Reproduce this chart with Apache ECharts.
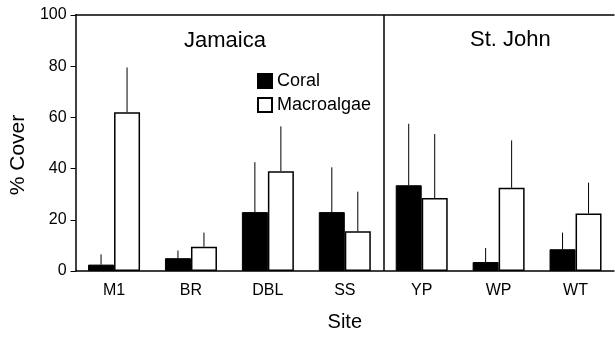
<!DOCTYPE html>
<html>
<head>
<meta charset="utf-8">
<script src="https://cdn.jsdelivr.net/npm/echarts@6/dist/echarts.min.js"></script>
<style>
  html, body { margin: 0; padding: 0; background: #fff; }
  #chart { width: 615px; height: 337px; }
</style>
</head>
<body>
<div id="chart"></div>
<script>
// sites along the x axis
const sites = ['M1', 'BR', 'DBL', 'SS', 'YP', 'WP', 'WT']
// mean % cover
const coral = [2.5, 5, 23, 23, 33.5, 3.5, 8.5]
const macroalgae = [62, 9.5, 39, 15.5, 28.5, 32.5, 22.5]
// top of the error bar (mean + SE)
const coralErr = [6.5, 8, 42.5, 40.5, 57.5, 9, 15]
const macroErr = [79.5, 15, 56.5, 31, 53.5, 51, 34.5]
const yTicks = [0, 20, 40, 60, 80, 100]

const font = 'Liberation Sans, Arial, Helvetica, sans-serif'
const chart = echarts.init(document.getElementById('chart'))

// upper error whiskers, no caps
function errSeries(means, tops, shift) {
  return {
    type: 'custom',
    silent: true,
    z: 5,
    data: means.map((m, i) => [i, m, tops[i]]),
    encode: { x: 0, y: [1, 2] },
    renderItem: (params, api) => {
      const a = api.coord([api.value(0), api.value(1)])
      const b = api.coord([api.value(0), api.value(2)])
      return {
        type: 'line',
        shape: { x1: a[0] + shift, y1: a[1], x2: b[0] + shift, y2: b[1] },
        style: { stroke: '#000', lineWidth: 1 },
      }
    },
  }
}

const option = {
  animation: false,
  textStyle: { fontFamily: font, color: '#000' },
  grid: { left: 73, right: 1, top: 15, bottom: 65 },
  legend: {
    orient: 'vertical',
    left: 252,
    top: 67,
    itemWidth: 14,
    itemHeight: 14,
    itemGap: 6,
    icon: 'rect',
    textStyle: { fontSize: 18, color: '#000', fontFamily: font },
    data: ['Coral', 'Macroalgae'],
  },
  xAxis: [
    {
      type: 'category',
      data: sites,
      name: 'Site',
      nameLocation: 'middle',
      nameGap: 41,
      nameTextStyle: { fontSize: 20, color: '#000' },
      axisLine: { lineStyle: { color: '#000', width: 1.5 } },
      axisTick: { show: false },
      axisLabel: { fontSize: 16, color: '#000', margin: 12 },
    },
    {
      // top frame line and site divider
      type: 'value',
      position: 'top',
      min: 0,
      max: 7,
      axisLine: { show: true, onZero: false, lineStyle: { color: '#000', width: 1.5 } },
      axisTick: { show: false },
      axisLabel: { show: false },
      splitLine: { show: false },
    },
  ],
  yAxis: {
    type: 'value',
    min: yTicks[0],
    max: yTicks[yTicks.length - 1],
    interval: 20,
    name: '% Cover',
    nameLocation: 'middle',
    nameGap: 42,
    nameTextStyle: { fontSize: 21, color: '#000', padding: [0, 0, 0, -24] },
    axisLine: { show: true, lineStyle: { color: '#000', width: 1.5 } },
    axisTick: { show: true, length: 5, lineStyle: { color: '#000' } },
    axisLabel: { fontSize: 16, color: '#000', margin: 9 },
    splitLine: { show: false },
  },
  series: [
    {
      name: 'Coral',
      type: 'bar',
      data: coral,
      barWidth: 26,
      barGap: '0%',
      itemStyle: { color: '#000', borderColor: '#000', borderWidth: 1 },
    },
    {
      name: 'Macroalgae',
      type: 'bar',
      data: macroalgae,
      barWidth: 26,
      itemStyle: { color: '#fff', borderColor: '#000', borderWidth: 1.5 },
    },
    errSeries(coral, coralErr, -13),
    errSeries(macroalgae, macroErr, 13),
    {
      type: 'line',
      xAxisIndex: 1,
      data: [],
      markLine: {
        silent: true,
        symbol: 'none',
        label: { show: false },
        lineStyle: { color: '#000', width: 1.5, type: 'solid' },
        data: [{ xAxis: 4 }],
      },
    },
  ],
  graphic: [
    { type: 'text', left: 184, top: 30, style: { text: 'Jamaica', font: '22px ' + font, fill: '#000' } },
    { type: 'text', left: 470, top: 29, style: { text: 'St. John', font: '22px ' + font, fill: '#000' } },
  ],
}

chart.setOption(option)
window.addEventListener('resize', () => chart.resize())
</script>
</body>
</html>
